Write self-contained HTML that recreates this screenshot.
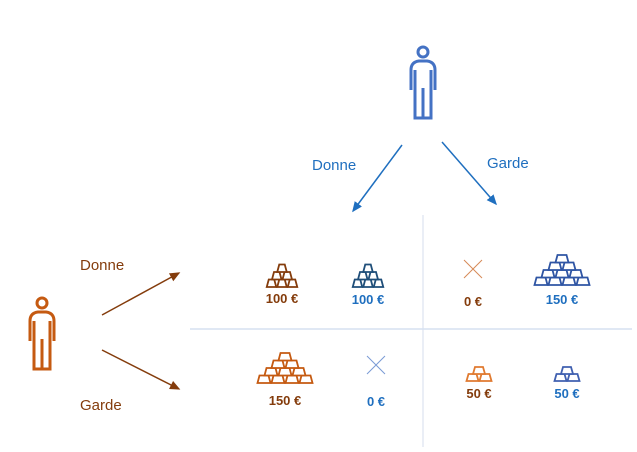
<!DOCTYPE html>
<html><head><meta charset="utf-8"><style>
body{margin:0;background:#fff;width:637px;height:447px;overflow:hidden;font-family:"Liberation Sans",sans-serif}
</style></head><body>
<svg id="s" width="637" height="447" font-family="Liberation Sans, sans-serif">
<line x1="423" y1="215" x2="423" y2="447" stroke="#e3e9f4" stroke-width="1.5"/>
<line x1="190" y1="329" x2="632" y2="329" stroke="#d6e0f1" stroke-width="1.5"/>
<g fill="none" stroke="#4472c4" stroke-width="3">
<circle cx="423" cy="52" r="5"/>
<path d="M411 90 V70 Q411 62 419 61 H427 Q435 62 435 70 V90 M415 70 V118 H431 V70 M423 88 V118"/>
</g>
<g fill="none" stroke="#c55a11" stroke-width="3">
<circle cx="42" cy="303" r="5"/>
<path d="M30 341 V321 Q30 313 38 312 H46 Q54 313 54 321 V341 M34 321 V369 H50 V321 M42 339 V369"/>
</g>
<defs>
<marker id="ab" markerWidth="8" markerHeight="8" refX="6" refY="4" orient="auto"><path d="M0 1 L7 4 L0 7z" fill="#1f6fbf"/></marker>
<marker id="ar" markerWidth="8" markerHeight="8" refX="6" refY="4" orient="auto"><path d="M0 1 L7 4 L0 7z" fill="#843c0c"/></marker>
</defs>
<line x1="402" y1="145" x2="353" y2="211" stroke="#1f6fbf" stroke-width="1.5" marker-end="url(#ab)"/>
<line x1="442" y1="142" x2="496" y2="204" stroke="#1f6fbf" stroke-width="1.5" marker-end="url(#ab)"/>
<line x1="102" y1="315" x2="179" y2="273" stroke="#843c0c" stroke-width="1.5" marker-end="url(#ar)"/>
<line x1="102" y1="350" x2="179" y2="389" stroke="#843c0c" stroke-width="1.5" marker-end="url(#ar)"/>
<text x="312" y="170" font-size="15" fill="#1f6fbf">Donne</text>
<text x="487" y="168" font-size="15" fill="#1f6fbf">Garde</text>
<text x="80" y="270" font-size="15" fill="#843c0c">Donne</text>
<text x="80" y="410" font-size="15" fill="#843c0c">Garde</text>
<g id="cells"></g>
</svg>
<script>
const cellX=[282,368,473,562,285,376,479,567];
const cellLabels=["100 €","100 €","0 €","150 €","150 €","0 €","50 €","50 €"];
const cellRows=[3,3,0,4,4,0,2,2];
const cellColors=["#843c0c","#1f4e79","#c55a11","#2f55a4","#c55a11","#4472c4","#e07a30","#4060b0"];
const textColors=["#843c0c","#1f6fbf","#843c0c","#1f6fbf","#843c0c","#1f6fbf","#843c0c","#1f6fbf"];
const cellBase=[287,287,287,285,383,383,381,381];
const labelY=[303,304,306,304,405,406,398,398];
const g=document.getElementById('cells');
const NS="http://www.w3.org/2000/svg";
for(let i=0;i<cellX.length;i++){
  const grp=document.createElementNS(NS,'g');
  
  
  const cx=cellX[i],b=cellBase[i],n=cellRows[i];
  if(n===0){
    const p=document.createElementNS(NS,'path');
    p.setAttribute('d',`M${cx-9} ${b-27} L${cx+9} ${b-9} M${cx+9} ${b-27} L${cx-9} ${b-9}`);
    p.setAttribute('stroke',cellColors[i]);p.setAttribute('stroke-width','1');p.setAttribute('opacity','0.7');
    grp.appendChild(p);
  } else {
    const w=n===4?14:(n===2?13:10.5),h=n===4?7.5:(n===2?7:7.5);
    for(let r=0;r<n;r++){
      const cnt=n-r;
      for(let k=0;k<cnt;k++){
        const x=cx-cnt*w/2+k*w,y=b-(r+1)*h;
        const p=document.createElementNS(NS,'path');
        p.setAttribute('d',`M${x+0.5} ${y+h} L${x+2.5} ${y} H${x+w-2.5} L${x+w-0.5} ${y+h}Z`);
        p.setAttribute('fill','#fff');p.setAttribute('stroke',cellColors[i]);p.setAttribute('stroke-width','1.8');
        grp.appendChild(p);
      }
    }
  }
  const t=document.createElementNS(NS,'text');
  t.setAttribute('x',cx);t.setAttribute('y',labelY[i]);t.setAttribute('text-anchor','middle');
  t.setAttribute('font-size','13');t.setAttribute('font-weight','bold');t.setAttribute('fill',textColors[i]);
  t.textContent=cellLabels[i];
  grp.appendChild(t);
  g.appendChild(grp);
}
</script>
</body></html>
